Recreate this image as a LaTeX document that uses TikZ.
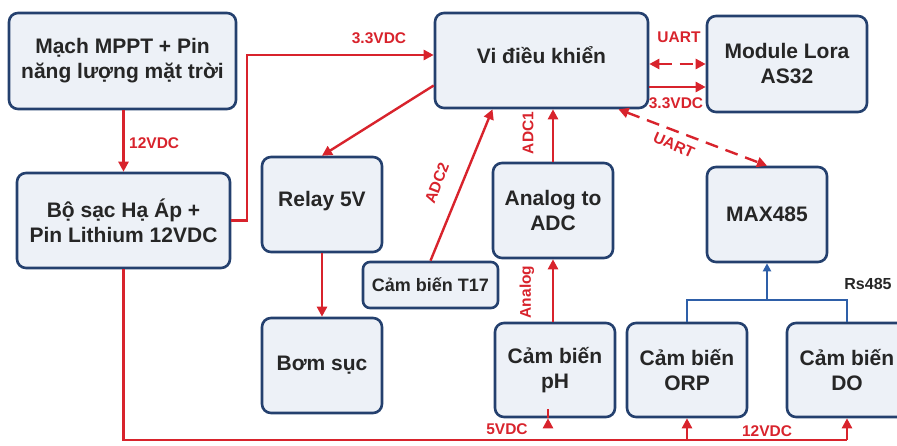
\documentclass[tikz,border=0pt]{standalone}
\usepackage{fontspec}
\setmainfont{Liberation Sans}
\usetikzlibrary{arrows.meta,calc}
\definecolor{boxline}{HTML}{24406E}
\definecolor{boxfill}{HTML}{EDF1F7}
\definecolor{wire}{HTML}{D8232C}
\definecolor{bluewire}{HTML}{2E5FA8}
\definecolor{txt}{HTML}{262626}
\tikzset{
  box/.style={draw=boxline, line width=2.6pt, fill=boxfill, rounded corners=9pt,
    align=center, inner sep=0pt, text=txt, font=\bfseries\fontsize{21}{25}\selectfont},
  rwire/.style={draw=wire, line width=2.4pt, -{Triangle[length=10pt,width=10pt]}},
  rplain/.style={draw=wire, line width=2.4pt},
  rdash/.style={draw=wire, line width=2.4pt, dash pattern=on 13pt off 8pt,
    {Triangle[length=10pt,width=10pt]}-{Triangle[length=10pt,width=10pt]}},
  bwire/.style={draw=bluewire, line width=2.2pt},
  lbl/.style={text=wire, font=\bfseries\fontsize{15.5}{17}\selectfont, inner sep=0pt},
}
\begin{document}
\begin{tikzpicture}[x=1pt,y=-1pt]
\useasboundingbox (0,0) rectangle (897,446);
% boxes
\node[box, minimum width=227pt, minimum height=96pt] (mppt) at (122.5,61) {Mạch MPPT + Pin\\năng lượng mặt trời};
\node[box, minimum width=213pt, minimum height=95pt] (sac) at (123.5,220.5) {Bộ sạc Hạ Áp +\\Pin Lithium 12VDC};
\node[box, minimum width=213pt, minimum height=95pt] (vi) at (541.5,60.5) {\raisebox{11pt}{Vi điều khiển}};
\node[box, minimum width=160pt, minimum height=96pt] (lora) at (787,64) {Module Lora\\AS32};
\node[box, minimum width=120pt, minimum height=95pt] (relay) at (322,204.5) {\raisebox{11pt}{Relay 5V}};
\node[box, minimum width=120pt, minimum height=95pt] (bom) at (322,365.5) {Bơm sục};
\node[box, minimum width=135pt, minimum height=46pt, rounded corners=7pt,
      font=\bfseries\fontsize{18}{20}\selectfont] (t17) at (430.5,285) {Cảm biến T17};
\node[box, minimum width=120pt, minimum height=95pt] (adc) at (553,210.5) {Analog to\\ADC};
\node[box, minimum width=120pt, minimum height=95pt] (max) at (767,214.5) {MAX485};
\node[box, minimum width=120pt, minimum height=94pt] (ph) at (555,370) {Cảm biến\\pH};
\node[box, minimum width=120pt, minimum height=94pt] (orp) at (687,370) {Cảm biến\\ORP};
\node[box, minimum width=120pt, minimum height=94pt] (do) at (847,370) {Cảm biến\\DO};
% red power wires
\draw[rwire] (mppt.south -| sac.north) -- (sac.north);
\node[lbl, anchor=west] (l12a) at (129,143) {12VDC};
\coordinate (j1) at (247,55);
\draw[rwire] (sac.east) -| (j1) -- (vi.west |- j1);
\node[lbl] (l33a) at (379,38) {3.3VDC};
\draw[rwire] ($(vi.west)+(0,25)$) -- (relay.north);
\draw[rwire] (t17.north) -- ($(vi.south)+(-49,0)$);
\node[lbl, rotate=69] (ladc2) at (437,183) {ADC2};
\draw[rwire] (adc.north) -- (adc.north |- vi.south);
\node[lbl, rotate=90] (ladc1) at (528,133) {ADC1};
\draw[rwire] (adc.south |- ph.north) -- (adc.south);
\node[lbl, rotate=90] (lan) at (527,292) {Analog};
\draw[rdash] (vi.east |- lora.west) -- (lora.west);
\node[lbl] (luart1) at (679,37) {UART};
\draw[rwire] ($(vi.east)+(0,26.5)$) -- ($(lora.west)+(0,23)$);
\node[lbl] (l33b) at (676,103) {3.3VDC};
\draw[rdash] ($(vi.south)+(77,0)$) -- (max.north);
\node[lbl, rotate=-24] (luart2) at (674,145) {UART};
\draw[rwire] (relay.south) -- (bom.north);
% bottom 12V bus
\coordinate (bl) at (123.5,440);
\coordinate (br) at (847,440);
\draw[rplain] (sac.south) -- (bl) -- (br);
\draw[rwire] ($(ph.south)+(-7,0)$ |- bl) -- ($(ph.south)+(-7,0)$);
\draw[rwire] (orp.south |- bl) -- (orp.south);
\draw[rwire] (do.south |- br) -- (do.south);
\node[lbl] (l5v) at (507,429) {5VDC};
\node[lbl] (l12b) at (767,431) {12VDC};
% RS485 bus
\coordinate (bus) at (767,300);
\draw[bwire] (orp.north) |- (bus) -| (do.north);
\draw[bwire, -{Triangle[length=8pt,width=8pt]}] (bus) -- (max.south);
\node[text=txt, font=\bfseries\fontsize{16}{18}\selectfont, inner sep=0pt] (lrs) at (868,284) {Rs485};
\end{tikzpicture}
\end{document}
